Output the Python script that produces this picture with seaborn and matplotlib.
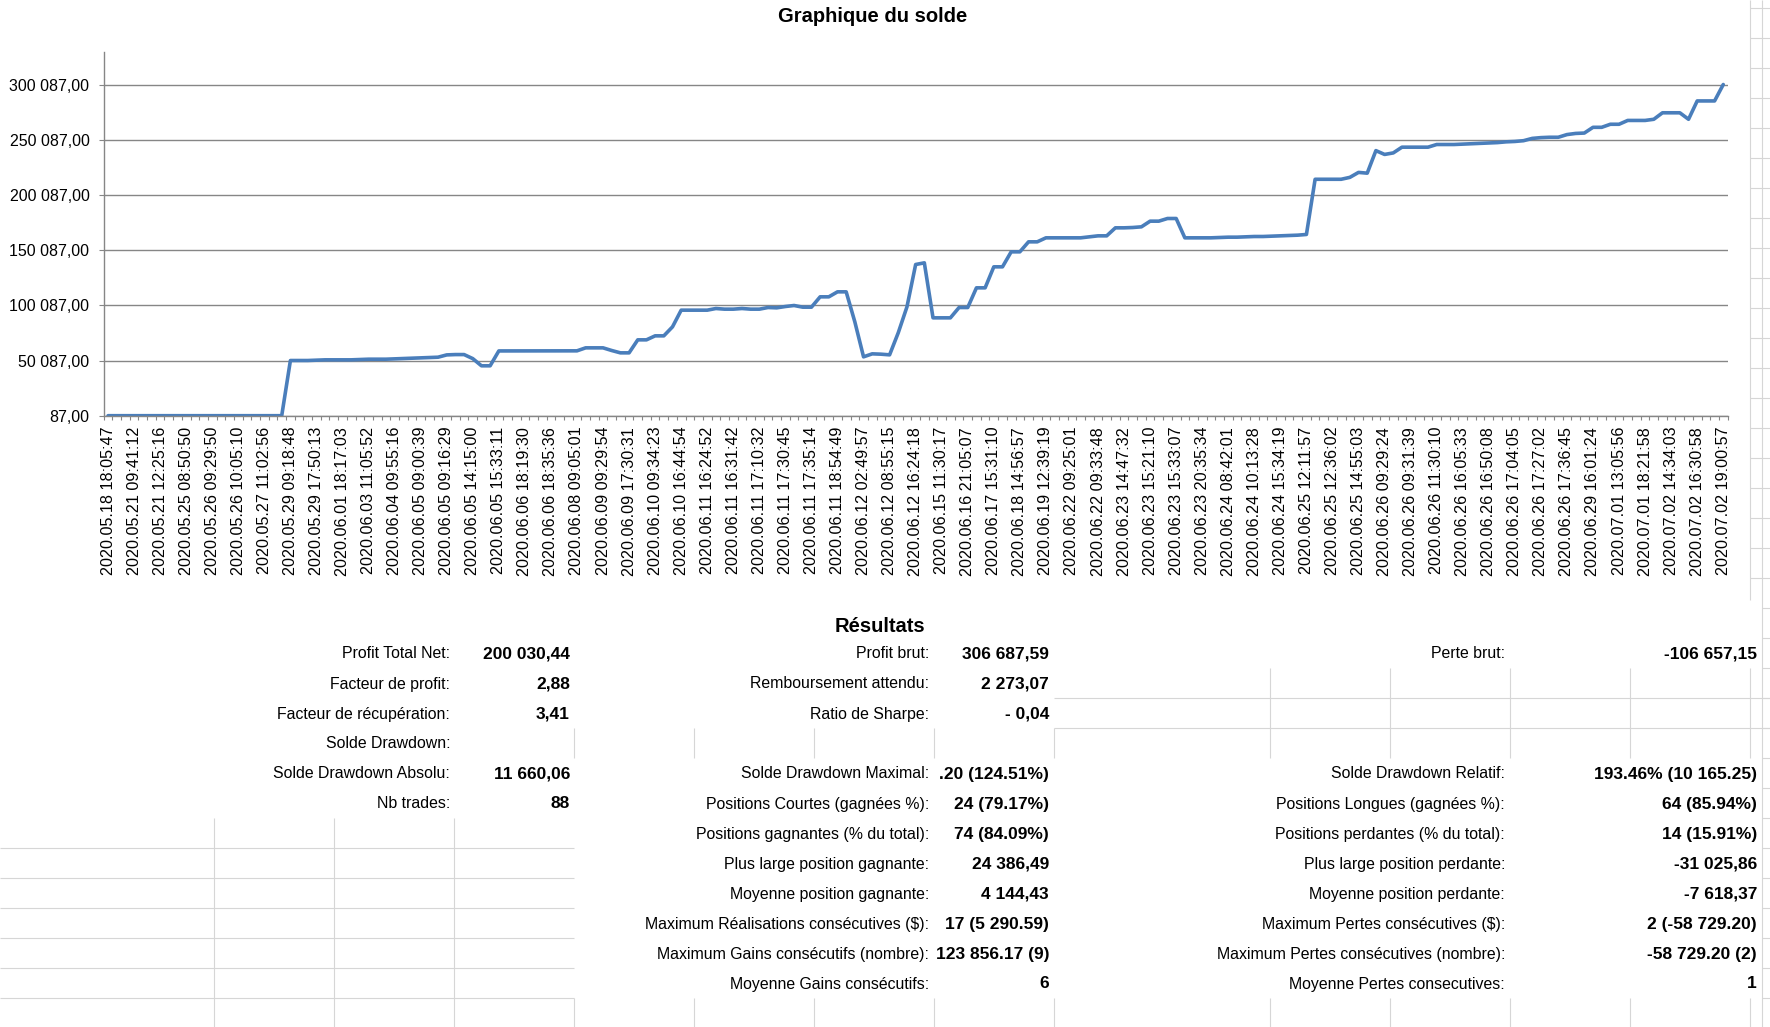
import numpy as np
import pandas as pd
import matplotlib
matplotlib.use("Agg")
import matplotlib.pyplot as plt
import seaborn as sns

# ===============================
# DATA
# ===============================
DATES = [
    "2020.05.18 18:05:47", "2020.05.21 09:41:12", "2020.05.21 12:25:16", "2020.05.25 08:50:50",
    "2020.05.26 09:29:50", "2020.05.26 10:05:10", "2020.05.27 11:02:56", "2020.05.29 09:18:48",
    "2020.05.29 17:50:13", "2020.06.01 18:17:03", "2020.06.03 11:05:52", "2020.06.04 09:55:16",
    "2020.06.05 09:00:39", "2020.06.05 09:16:29", "2020.06.05 14:15:00", "2020.06.05 15:33:11",
    "2020.06.06 18:19:30", "2020.06.06 18:35:36", "2020.06.08 09:05:01", "2020.06.09 09:29:54",
    "2020.06.09 17:30:31", "2020.06.10 09:34:23", "2020.06.10 16:44:54", "2020.06.11 16:24:52",
    "2020.06.11 16:31:42", "2020.06.11 17:10:32", "2020.06.11 17:30:45", "2020.06.11 17:35:14",
    "2020.06.11 18:54:49", "2020.06.12 02:49:57", "2020.06.12 08:55:15", "2020.06.12 16:24:18",
    "2020.06.15 11:30:17", "2020.06.16 21:05:07", "2020.06.17 15:31:10", "2020.06.18 14:56:57",
    "2020.06.19 12:39:19", "2020.06.22 09:25:01", "2020.06.22 09:33:48", "2020.06.23 14:47:32",
    "2020.06.23 15:21:10", "2020.06.23 15:33:07", "2020.06.23 20:35:34", "2020.06.24 08:42:01",
    "2020.06.24 10:13:28", "2020.06.24 15:34:19", "2020.06.25 12:11:57", "2020.06.25 12:36:02",
    "2020.06.25 14:55:03", "2020.06.26 09:29:24", "2020.06.26 09:31:39", "2020.06.26 11:30:10",
    "2020.06.26 16:05:33", "2020.06.26 16:50:08", "2020.06.26 17:04:05", "2020.06.26 17:27:02",
    "2020.06.26 17:36:45", "2020.06.29 16:01:24", "2020.07.01 13:05:56", "2020.07.01 18:21:58",
    "2020.07.02 14:34:03", "2020.07.02 16:30:58", "2020.07.02 19:00:57",
]

BALANCE = [
    87, 87, 87, 87, 87, 87, 87, 87, 87, 87,
    87, 87, 87, 87, 87, 87, 87, 87, 87, 87,
    87, 50087, 50087, 50087, 50390, 50690, 50690, 50690, 50690, 50980,
    51280, 51280, 51280, 51580, 51880, 52180, 52480, 52780, 53080, 55170,
    55470, 55470, 51800, 45300, 45300, 58760, 58760, 58760, 58760, 58760,
    58850, 58850, 58850, 58850, 58850, 61560, 61560, 61560, 59150, 57030,
    57030, 68810, 68810, 72430, 72430, 80590, 95690, 95690, 95690, 95690,
    97200, 96600, 96600, 97200, 96600, 96600, 98100, 97800, 99010, 99920,
    98410, 98410, 107770, 107770, 112300, 112300, 85000, 53410, 56130, 55820,
    55220, 75300, 98710, 137060, 138570, 88740, 88740, 88740, 98100, 98100,
    115920, 115920, 134950, 134950, 148540, 148540, 157600, 157600, 161220, 161220,
    161220, 161220, 161220, 162120, 163030, 163030, 170280, 170280, 170580, 171190,
    176320, 176320, 178740, 178740, 161220, 161220, 161220, 161220, 161520, 161820,
    161820, 162120, 162430, 162430, 162730, 163030, 163340, 163640, 164270, 214270,
    214270, 214270, 214270, 216000, 220500, 219800, 240230, 236770, 238150, 243350,
    243350, 243350, 243350, 245770, 245770, 245770, 246110, 246460, 246800, 247150,
    247500, 248190, 248530, 249220, 251300, 252000, 252330, 252330, 254760, 255800,
    256140, 261340, 261340, 264110, 264110, 267570, 267570, 267570, 268620, 274500,
    274500, 274500, 268620, 285240, 285240, 285240, 300110,
]

YTICKS = [87, 50087, 100087, 150087, 200087, 250087, 300087]
YTICK_LABELS = ["87,00", "50 087,00", "100 087,00", "150 087,00",
                "200 087,00", "250 087,00", "300 087,00"]

LEFT_LABELS = ["Profit Total Net:", "Facteur de profit:", "Facteur de récupération:",
               "Solde Drawdown:", "Solde Drawdown Absolu:", "Nb trades:"]
LEFT_VALUES = ["200 030,44", "2,88", "3,41", "", "11 660,06", "88"]

MID_LABELS = ["Profit brut:", "Remboursement attendu:", "Ratio de Sharpe:", "",
              "Solde Drawdown Maximal:", "Positions Courtes (gagnées %):",
              "Positions gagnantes (% du total):", "Plus large position gagnante:",
              "Moyenne position gagnante:", "Maximum Réalisations consécutives ($):",
              "Maximum Gains consécutifs (nombre):", "Moyenne Gains consécutifs:"]
MID_VALUES = ["306 687,59", "2 273,07", "- 0,04", "", ".20 (124.51%)", "24 (79.17%)",
              "74 (84.09%)", "24 386,49", "4 144,43", "17 (5 290.59)",
              "123 856.17 (9)", "6"]

RIGHT_LABELS = ["Perte brut:", "", "", "", "Solde Drawdown Relatif:",
                "Positions Longues (gagnées %):", "Positions perdantes (% du total):",
                "Plus large position perdante:", "Moyenne position perdante:",
                "Maximum Pertes consécutives ($):", "Maximum Pertes consécutives (nombre):",
                "Moyenne Pertes consecutives:"]
RIGHT_VALUES = ["-106 657,15", "", "", "", "193.46% (10 165.25)", "64 (85.94%)",
                "14 (15.91%)", "-31 025,86", "-7 618,37", "2 (-58 729.20)",
                "-58 729.20 (2)", "1"]

# ===============================
# LAYOUT (pixels)
# ===============================
W, H = 1770, 1027
ROW_Y0, ROW_H = 654, 30
GRID = "#D6D6D6"
AXIS_GREY = "#868686"
LINE_BLUE = "#4A7EBB"

sns.set_theme(style="white")
plt.rcParams['font.family'] = ['Liberation Sans', 'DejaVu Sans']

fig = plt.figure(figsize=(W / 100, H / 100), dpi=100)
fig.patch.set_facecolor("white")

# ===============================
# SHEET BACKGROUND (gridlines + results)
# ===============================
bg = fig.add_axes([0, 0, 1, 1])
bg.set_xlim(0, W)
bg.set_ylim(H, 0)
bg.axis("off")
lw = 0.8

# left block
bg.vlines([213.5, 333.5, 453.5], 818, H, color=GRID, lw=lw)
bg.hlines([848, 878, 908, 938, 968, 998], 0, 573.5, color=GRID, lw=lw)
bg.vlines([573.5], 998, H, color=GRID, lw=lw)
bg.vlines([573.5], 728, 758, color=GRID, lw=lw)
# middle block
bg.vlines([693.5, 813.5, 933.5, 1053.5], 728, 758, color=GRID, lw=lw)
bg.vlines([693.5, 813.5, 933.5, 1053.5], 998, H, color=GRID, lw=lw)
# right block
bg.hlines([698, 728], 1053.5, W, color=GRID, lw=lw)
bg.vlines([1269.5, 1389.5, 1509.5, 1629.5, 1749.5], 668, 758, color=GRID, lw=lw)
bg.vlines([1269.5, 1389.5, 1509.5, 1629.5, 1749.5], 998, H, color=GRID, lw=lw)
# far right strip of the sheet
bg.vlines([1750], 0, 600, color=GRID, lw=lw)
bg.vlines([1762], 0, H, color=GRID, lw=lw)
bg.hlines(np.arange(8, 600, 30), 1750, W, color=GRID, lw=lw)
bg.hlines(np.arange(608, H, 30), 1762, W, color=GRID, lw=lw)

bg.text(880, 627, "Résultats", ha="center", va="center", fontsize=14.5,
        fontweight="bold", color="black")

blocks = [
    (LEFT_LABELS, LEFT_VALUES, 450, 570),
    (MID_LABELS, MID_VALUES, 929, 1049),
    (RIGHT_LABELS, RIGHT_VALUES, 1505, 1757),
]
for labels, values, lab_x, val_x in blocks:
    for k, (lab, val) in enumerate(zip(labels, values)):
        y = ROW_Y0 + k * ROW_H
        if lab:
            bg.text(lab_x, y, lab, ha="right", va="center", fontsize=11.4,
                    color="black", parse_math=False)
        if val:
            bg.text(val_x, y, val, ha="right", va="center", fontsize=12.5,
                    fontweight="bold", color="black", parse_math=False)

# ===============================
# BALANCE CHART
# ===============================
left, right, top, bottom = 103.7, 1727.6, 52.3, 415.7
ax = fig.add_axes([left / W, 1 - bottom / H, (right - left) / W, (bottom - top) / H])
ax.patch.set_alpha(0)

df = pd.DataFrame({"idx": np.arange(len(BALANCE)), "solde": BALANCE})
sns.lineplot(data=df, x="idx", y="solde", ax=ax, color=LINE_BLUE, linewidth=2.6)

ax.set_xlim(-0.5, len(BALANCE) - 0.5)
ax.set_ylim(87, 329300)
ax.set_axisbelow(True)

ax.set_yticks(YTICKS)
ax.set_yticklabels(YTICK_LABELS, fontsize=11.5, color="black")
ax.yaxis.grid(True, color=AXIS_GREY, linewidth=1.0)
ax.xaxis.grid(False)

ax.set_xticks(np.arange(0, len(BALANCE), 3))
ax.set_xticklabels(DATES, rotation=90, fontsize=11.6, color="black")
ax.set_xticks(np.arange(-0.5, len(BALANCE), 1), minor=True)
ax.tick_params(axis="x", which="major", bottom=True, length=0, pad=8)
ax.tick_params(axis="x", which="minor", bottom=True, length=3, width=0.8, color=AXIS_GREY)
ax.tick_params(axis="y", which="major", left=True, length=3.3, width=0.8,
               color=AXIS_GREY, pad=7)

for s in ["top", "right"]:
    ax.spines[s].set_visible(False)
for s in ["left", "bottom"]:
    ax.spines[s].set_color(AXIS_GREY)
    ax.spines[s].set_linewidth(1.0)
ax.set_xlabel("")
ax.set_ylabel("")

fig.text(873 / W, 1 - 16 / H, "Graphique du solde", ha="center", va="center",
         fontsize=14.5, fontweight="bold", color="black")

fig.savefig("out.png", dpi=100)
